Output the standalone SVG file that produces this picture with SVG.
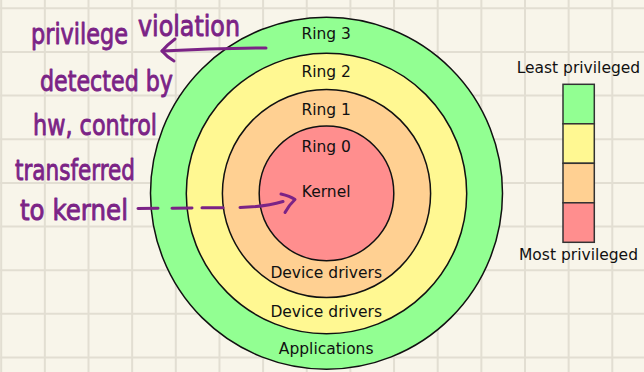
<svg xmlns="http://www.w3.org/2000/svg" width="644" height="372" viewBox="0 0 644 372">
  <style>
    .grid { stroke: #e2ded2; stroke-width: 2; fill: none; }
    .ring { stroke: #111; stroke-width: 1.5; }
    .lbl { font-family: "DejaVu Sans", "Liberation Sans", sans-serif; font-size: 15.5px; fill: #111; text-anchor: middle; }
    .hand { font-family: "DejaVu Sans", "Liberation Sans", sans-serif; font-size: 28px; fill: #7b2386; stroke: #7b2386; stroke-width: 0.9; stroke-linejoin: round; }
    .ink { stroke: #7b2386; stroke-width: 3; fill: none; stroke-linecap: round; stroke-linejoin: round; }
    .swatch { stroke: #333; stroke-width: 1.5; }
  </style>

  <!-- paper background with square grid -->
  <rect width="644" height="372" fill="#f8f5ea"/>
  <path class="grid" d="
    M1.2,0V372 M44.85,0V372 M88.5,0V372 M132.15,0V372 M175.8,0V372
    M219.45,0V372 M263.1,0V372 M306.75,0V372 M350.4,0V372 M394.05,0V372
    M437.7,0V372 M481.35,0V372 M525,0V372 M568.65,0V372 M612.3,0V372
    M0,8.3H644 M0,51.95H644 M0,95.6H644 M0,139.25H644 M0,182.9H644
    M0,226.55H644 M0,270.2H644 M0,313.85H644 M0,357.5H644"/>

  <!-- concentric protection rings -->
  <g id="ring3">
    <circle class="ring" cx="326.5" cy="193.2" r="176" fill="#92ff92"/>
    <text class="lbl" x="326.2" y="39.3">Ring 3</text>
    <text class="lbl" x="326.2" y="354.3">Applications</text>
  </g>
  <g id="ring2">
    <circle class="ring" cx="326.5" cy="193.5" r="140.2" fill="#fff892"/>
    <text class="lbl" x="326.2" y="77">Ring 2</text>
    <text class="lbl" x="326.2" y="316.7">Device drivers</text>
  </g>
  <g id="ring1">
    <circle class="ring" cx="326.5" cy="193.5" r="104.1" fill="#ffd092"/>
    <text class="lbl" x="326.2" y="114.6">Ring 1</text>
    <text class="lbl" x="326.2" y="278.3">Device drivers</text>
  </g>
  <g id="ring0">
    <circle class="ring" cx="326.5" cy="193.4" r="67.3" fill="#ff8e8e"/>
    <text class="lbl" x="326.2" y="152.3">Ring 0</text>
    <text class="lbl" x="326.2" y="196.7">Kernel</text>
  </g>

  <!-- privilege legend -->
  <g id="legend">
    <text class="lbl" x="578.4" y="72.7">Least privileged</text>
    <rect class="swatch" x="563" y="84.3" width="31.3" height="39.5" fill="#92ff92"/>
    <rect class="swatch" x="563" y="123.8" width="31.3" height="39.5" fill="#fff892"/>
    <rect class="swatch" x="563" y="163.3" width="31.3" height="39.5" fill="#ffd092"/>
    <rect class="swatch" x="563" y="202.8" width="31.3" height="39.5" fill="#ff8e8e"/>
    <text class="lbl" x="578.5" y="260.4">Most privileged</text>
  </g>

  <!-- handwritten note -->
  <g id="note">
    <text class="hand" x="31" y="44" textLength="97" lengthAdjust="spacingAndGlyphs">privilege</text>
    <text class="hand" x="138" y="36" textLength="102" lengthAdjust="spacingAndGlyphs">violation</text>
    <text class="hand" x="40" y="91" textLength="133" lengthAdjust="spacingAndGlyphs">detected by</text>
    <text class="hand" x="33" y="135" textLength="124" lengthAdjust="spacingAndGlyphs">hw, control</text>
    <text class="hand" x="15" y="180" textLength="120" lengthAdjust="spacingAndGlyphs">transferred</text>
    <text class="hand" x="20" y="220" textLength="108" lengthAdjust="spacingAndGlyphs">to kernel</text>
  </g>

  <!-- hand-drawn arrows -->
  <g id="connectors">
    <path class="ink" d="M266,48 Q215,48 162,51"/>
    <path class="ink" d="M175,39 Q167,45 162,51 Q167,57 174,61"/>
    <path class="ink" d="M138,208.5 L240,207.5 Q265,207 283,201.5" stroke-dasharray="20 14 20 10 21 17 60"/>
    <path class="ink" d="M281,194 Q290,196 295,199.5 Q289,205 285,212.5"/>
  </g>
</svg>
